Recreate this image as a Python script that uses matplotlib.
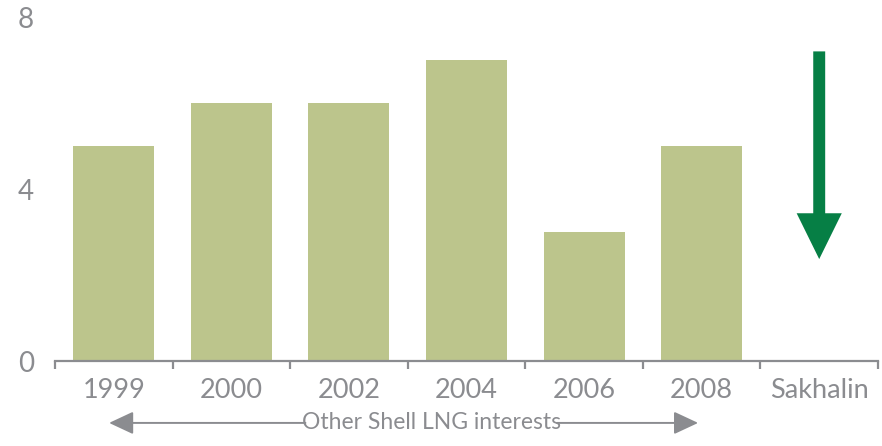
import matplotlib
matplotlib.use("Agg")
import matplotlib.pyplot as plt
from matplotlib.transforms import blended_transform_factory

categories = ["1999", "2000", "2002", "2004", "2006", "2008", "Sakhalin"]
values = [5, 6, 6, 7, 3, 5]
sakhalin_from = 7.2
sakhalin_to = 2.37
yticks = [0, 4, 8]
group_label = "Other Shell LNG interests"

grey = "#8b8c90"
bar_color = "#bcc58c"
green = "#067f45"

plt.rcParams['font.family'] = ['Lato', 'DejaVu Sans']

fig = plt.figure(figsize=(8.82, 4.46), dpi=100)
ax = fig.add_axes([55/882, 1-361/446, 823/882, 344/446])

x = list(range(len(categories)))
ax.bar(x[:len(values)], values, width=0.69, color=bar_color)

ax.set_xlim(-0.5, len(categories) - 0.5)
ax.set_ylim(0, 8)

for s in ["top", "right", "left"]:
    ax.spines[s].set_visible(False)
ax.spines["bottom"].set_color(grey)
ax.spines["bottom"].set_linewidth(1.6)

ax.set_yticks(yticks)
ax.set_yticklabels([str(v) for v in yticks])
ax.tick_params(axis="y", length=0, pad=15, labelsize=20, labelcolor=grey)

ax.set_xticks(x)
ax.set_xticklabels(categories)
ax.tick_params(axis="x", which="major", length=0, pad=12, labelsize=19.5, labelcolor=grey)
ax.set_xticks([i - 0.5 for i in range(len(categories) + 1)], minor=True)
ax.tick_params(axis="x", which="minor", length=6, width=1.6, color=grey, direction="out")

# Sakhalin arrow
ax.annotate("", xy=(len(categories) - 1, sakhalin_to), xytext=(len(categories) - 1, sakhalin_from),
            arrowprops=dict(arrowstyle="simple,head_length=33,head_width=32.5,tail_width=8.6",
                            color=green, mutation_scale=1, shrinkA=0, shrinkB=0, lw=0))

# Bottom group bracket
trans = blended_transform_factory(ax.transData, ax.transAxes)
yline = -0.18
ax.text(2.70, yline, group_label, transform=trans, ha="center", va="center",
        fontsize=16.5, color=grey, clip_on=False)
ax.annotate("", xy=(-0.04, yline), xytext=(1.63, yline), xycoords=trans, textcoords=trans,
            arrowprops=dict(arrowstyle="-|>,head_length=15,head_width=7", mutation_scale=1,
                            color=grey, lw=1.4, shrinkA=0, shrinkB=0), annotation_clip=False)
ax.annotate("", xy=(4.97, yline), xytext=(3.77, yline), xycoords=trans, textcoords=trans,
            arrowprops=dict(arrowstyle="-|>,head_length=15,head_width=7", mutation_scale=1,
                            color=grey, lw=1.4, shrinkA=0, shrinkB=0), annotation_clip=False)

fig.savefig("out.png", dpi=100)
